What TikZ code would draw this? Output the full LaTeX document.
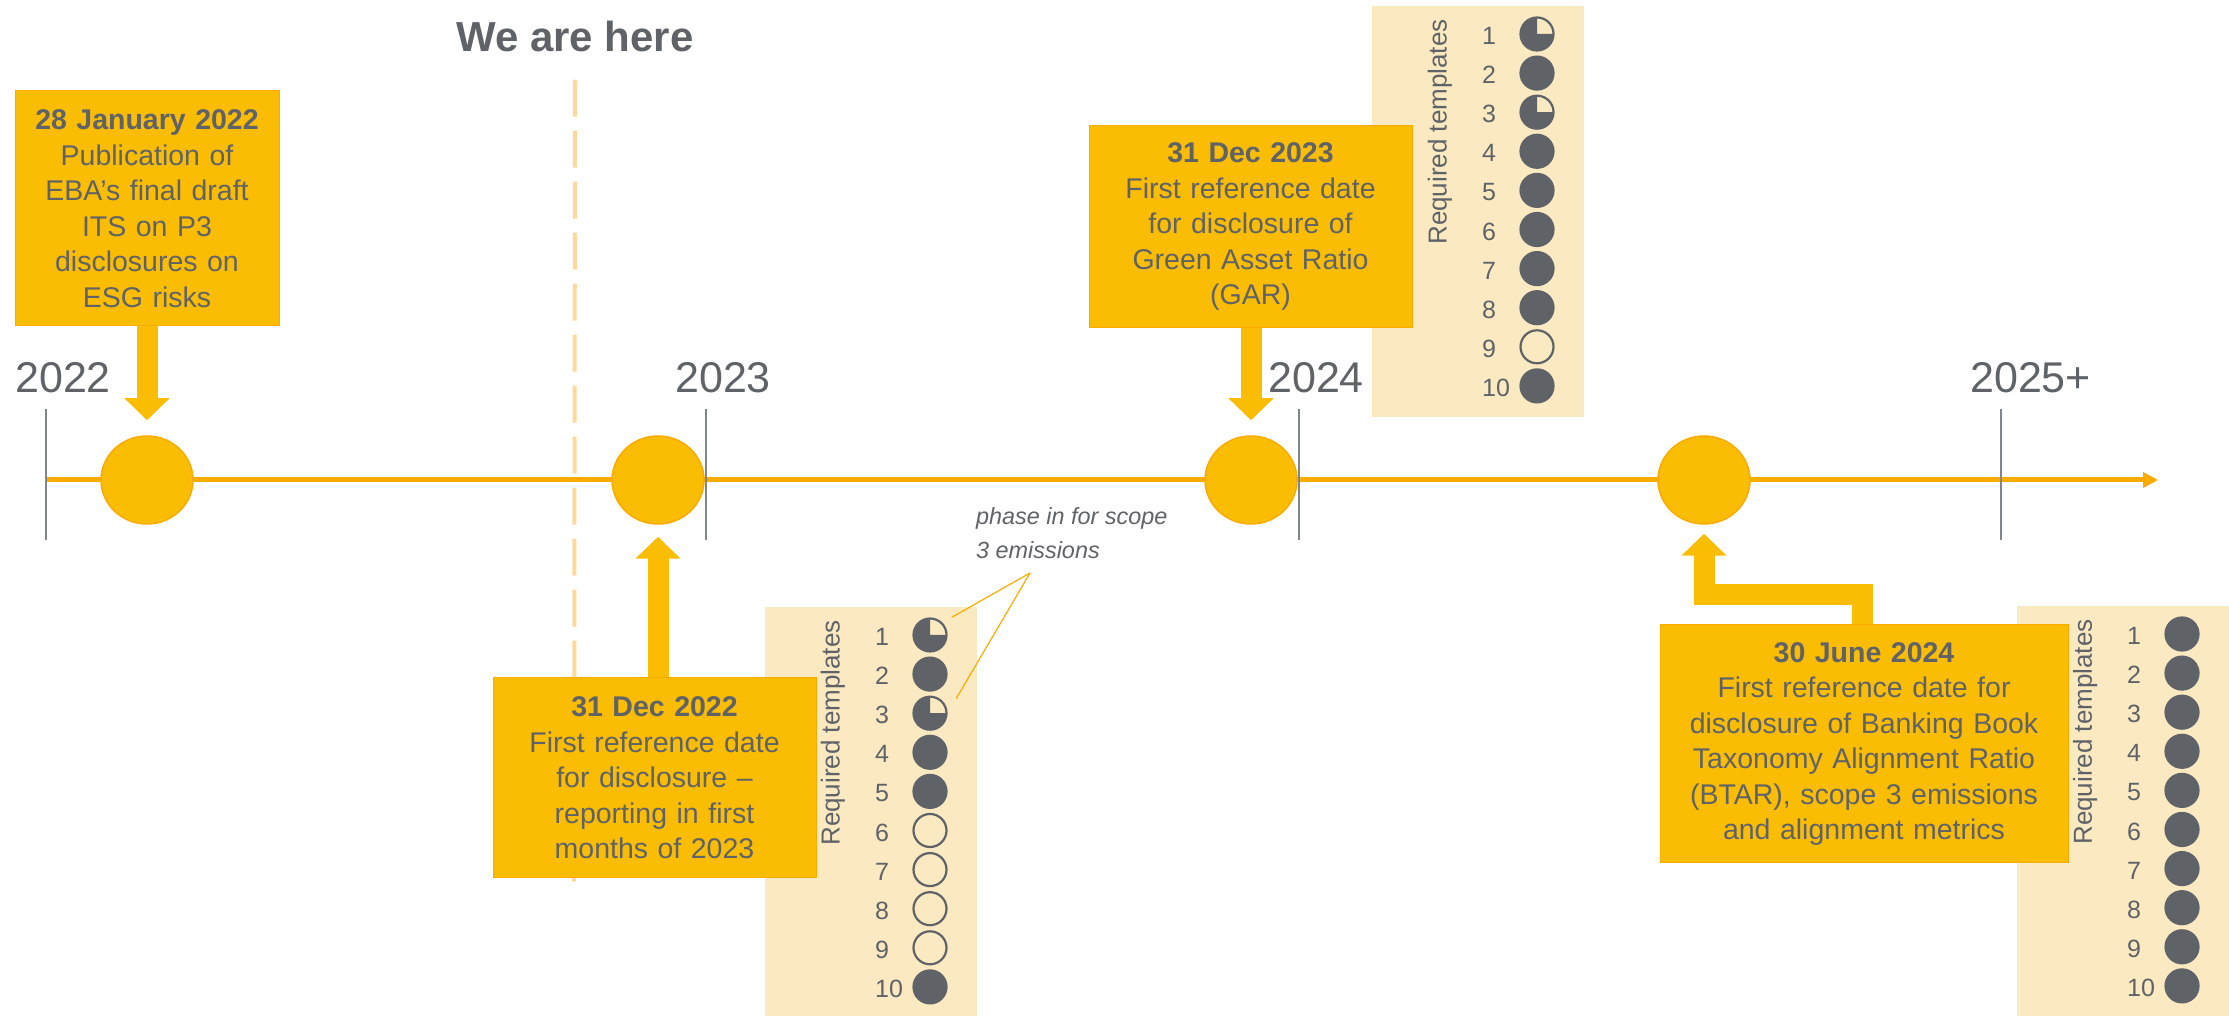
\documentclass[tikz,border=0pt]{standalone}
\usepackage{fontspec}
\setmainfont{Liberation Sans}
\usepackage{tikz}
\usetikzlibrary{arrows.meta,calc,positioning,shapes.geometric}

\definecolor{gold}{HTML}{FBBC04}
\definecolor{amber}{HTML}{F9AB00}
\definecolor{slate}{HTML}{5F6368}
\definecolor{cream}{HTML}{FBE9C1}
\definecolor{paleline}{HTML}{FDD99B}
\definecolor{greyline}{HTML}{80868B}

\tikzset{
  milestone/.style={ellipse, fill=gold, draw=amber, line width=1.5pt,
    minimum width=92pt, minimum height=88pt, inner sep=0pt},
  event/.style={rectangle, fill=gold, draw=amber, line width=1pt, align=center,
    text=slate, font=\fontsize{28.5}{35.5}\selectfont, inner xsep=4pt, inner ysep=0pt},
  year/.style={text=slate, font=\fontsize{43}{43}\selectfont, inner sep=0pt},
  here/.style={text=slate, font=\fontsize{42}{42}\selectfont\bfseries, inner sep=0pt},
  yearline/.style={draw=greyline, line width=1.8pt},
  timeline/.style={draw=amber, line width=5pt, -{Triangle[width=15pt,length=15pt]}},
  nowline/.style={draw=paleline, line width=4pt, dash pattern=on 37pt off 14pt},
  pointer/.style={draw=gold, line width=21pt, line join=miter,
    -{Triangle[width=44pt,length=22pt]}},
  tdot/.style={circle, draw=slate, line width=2.2pt, minimum size=33pt, inner sep=0pt},
  dotf/.style={fill=slate},
  doto/.style={},
  dotq/.style={path picture={\fill[slate] (path picture bounding box.center)
    -- (path picture bounding box.north) -| (path picture bounding box.west)
    |- (path picture bounding box.south) -| (path picture bounding box.east) -- cycle;}},
  tnum/.style={anchor=west, text=slate, font=\fontsize{25}{25}\selectfont, inner sep=0pt},
  tlabel/.style={rotate=90, text=slate, font=\fontsize{26}{26}\selectfont, inner sep=0pt},
  callout/.style={draw=amber, line width=1.2pt},
  note/.style={align=left, text=slate, font=\fontsize{23.4}{34}\selectfont\itshape, inner sep=0pt},
}

% #1 prefix, #2 left x, #3 top y, #4 states of the ten templates
\newcommand{\templatepanel}[4]{%
  \fill[cream] (#2,#3) rectangle ++(212,-411);
  \node[tlabel] at ({#2+68},{#3-126}) {Required templates};
  \foreach \s [count=\i] in {#4} {
    \node[tnum] at ({#2+110},{#3-30-39.1*(\i-1)}) {\i};
    \node[tdot, dot\s] (#1\i) at ({#2+165},{#3-28-39.1*(\i-1)}) {};
  }
}

\begin{document}
\begin{tikzpicture}[x=1pt,y=1pt]
\useasboundingbox (0,0) rectangle (2229,1016);

% templates required at each date
\templatepanel{a}{765}{409}{q,f,q,f,f,o,o,o,o,f}
\templatepanel{b}{1372}{1010}{q,f,q,f,f,f,f,f,o,f}
\templatepanel{c}{2017}{410}{f,f,f,f,f,f,f,f,f,f}

% today
\node[here] (here) at (575,979) {We are here};
\coordinate (nowend) at (574,130);
\draw[nowline] (here.south) ++(0,-27) -- (nowend);

% time axis
\coordinate (start) at (46,536);
\coordinate (stop) at (2158,536);
\draw[timeline] (start) -- (stop);

\node[milestone] (m1) at (147,536) {};
\node[milestone] (m2) at (658,536) {};
\node[milestone] (m3) at (1251,536) {};
\node[milestone] (m4) at (1704,536) {};

\foreach \x/\yr [count=\i] in {46/2022, 706/2023, 1299/2024, 2001/2025+} {
  \draw[yearline] (\x,476) -- (\x,607);
  \node[year, anchor=base west] (year\i) at (\x-31,623) {\yr};
}

% events
\node[event, text width=256pt, minimum height=235pt] (jan22) at (147,807.5)
  {\textbf{28 January 2022}\\Publication of\\EBA’s final draft\\ITS on P3\\disclosures on\\ESG risks};
\node[event, text width=315pt, minimum height=200pt] (dec22) at (654.5,238)
  {\textbf{31 Dec 2022}\\First reference date\\for disclosure --\\reporting in first\\months of 2023};
\node[event, text width=315pt, minimum height=202pt] (dec23) at (1250.5,789)
  {\textbf{31 Dec 2023}\\First reference date\\for disclosure of\\Green Asset Ratio\\(GAR)};
\node[event, text width=400pt, minimum height=238pt] (jun24) at (1864,272)
  {\textbf{30 June 2024}\\First reference date for\\disclosure of Banking Book\\Taxonomy Alignment Ratio\\(BTAR), scope 3 emissions\\and alignment metrics};

\draw[pointer, shorten >=15pt] (jan22) -- (m1);
\draw[pointer, shorten >=12pt] (m2 |- dec22.north) -- (m2);
\draw[pointer, shorten >=15pt] (m3 |- dec23.south) -- (m3);
\draw[pointer, shorten >=9pt] ([xshift=-2pt]jun24.north) -- ++(0,29.5) -| (m4);

% scope 3 note
\node[note, anchor=north west] (phase) at (976,509) {phase in for scope\\3 emissions};
\coordinate (phasetip) at (1030,443);
\draw[callout, shorten >=11pt] (phasetip) -- (a1.north east);
\draw[callout, shorten >=17pt] (phasetip) -- (a3.east);
\end{tikzpicture}
\end{document}
